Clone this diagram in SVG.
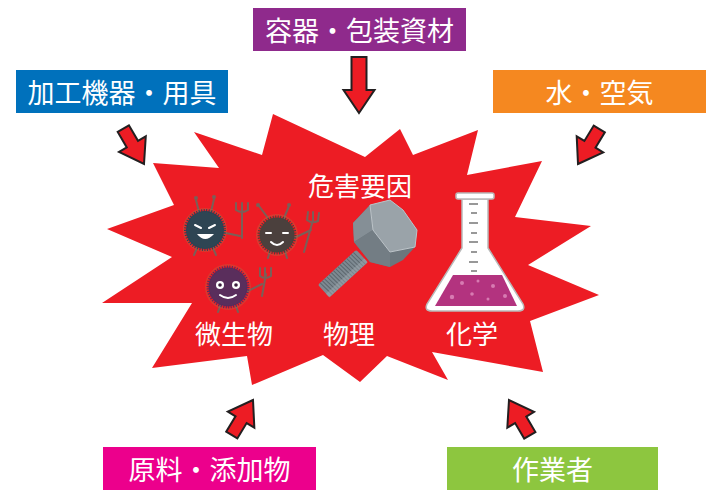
<svg xmlns="http://www.w3.org/2000/svg" width="706" height="491" viewBox="0 0 706 491">
  <style>
    .lbl { font-family: "Noto Sans CJK JP", "Noto Sans", sans-serif; font-size: 27px; fill: #ffffff; text-anchor: middle; dominant-baseline: central; }
    .cat { font-family: "Noto Sans CJK JP", "Noto Sans", sans-serif; font-size: 26px; fill: #ffffff; text-anchor: middle; dominant-baseline: central; }
    .arrow { fill: #ED1C24; stroke: #231F20; stroke-width: 2; stroke-linejoin: miter; }
    .fork { fill: none; stroke: #7a5f58; stroke-width: 2; stroke-linecap: round; }
    .fuzz { fill: none; stroke-width: 3; stroke-dasharray: 1 1.5; }
    .face { fill: none; stroke: #ffffff; stroke-width: 2; stroke-linecap: round; }
  </style>
  <defs>
    <!-- block arrows, tip at origin, pointing along +x -->
    <path id="arrowShort" d="M0,0 L-23,-15.5 L-23,-6.5 L-41,-6.5 L-41,6.5 L-23,6.5 L-23,15.5 Z"/>
    <path id="arrowLong" d="M0,0 L-23,-15.5 L-23,-7.5 L-56,-7.5 L-56,7.5 L-23,7.5 L-23,15.5 Z"/>
    <filter id="soft" x="-20%" y="-20%" width="140%" height="140%">
      <feGaussianBlur stdDeviation="0.6"/>
    </filter>
  </defs>

  <rect width="706" height="491" fill="#ffffff"/>

  <!-- central burst -->
  <g id="hazard-burst">
    <polygon fill="#ED1C24" points="273,114 365,157 400,129 413,155 478,130 467,175 542,161 515,217 591,226 528,265 599,295 530,321 543,372 432,352 448,380 387,356 360,382 323,355 252,385 247,356 152,368 192,303 102,303 172,257 107,229 174,205 153,163 219,168 194,132 262,155"/>
    <text class="cat" x="360" y="184">危害要因</text>
  </g>

  <!-- microorganisms -->
  <g id="microbes">
    <g filter="url(#soft)">
      <!-- dark teal microbe -->
      <g>
        <line class="fork" x1="199" y1="212" x2="196" y2="200"/>
        <line class="fork" x1="211" y1="212" x2="214" y2="199"/>
        <circle cx="196" cy="198" r="2" fill="#7a5f58"/>
        <circle cx="214" cy="197" r="2" fill="#7a5f58"/>
        <line class="fork" x1="221" y1="232" x2="240" y2="236"/>
        <path class="fork" d="M242,238 L242,208 M236,203 L236,210 Q242,214 248,210 L248,203 M242,203 L242,210"/>
        <line class="fork" x1="197" y1="248" x2="194" y2="255"/>
        <line class="fork" x1="213" y1="248" x2="216" y2="255"/>
        <circle cx="205" cy="230" r="21" fill="none" stroke="#c0603f" stroke-width="2" opacity="0.45"/>
        <circle cx="205" cy="230" r="19" fill="#2d4453"/>
        <circle cx="205" cy="230" r="19.5" class="fuzz" stroke="#2d4453"/>
        <path class="face" d="M195,225 L201,228 M215,225 L209,228"/>
        <path d="M197,234 Q205,244 214,234 Z" fill="#ffffff"/>
      </g>
      <!-- brown microbe -->
      <g>
        <line class="fork" x1="268" y1="218" x2="259" y2="206"/>
        <line class="fork" x1="284" y1="218" x2="289" y2="206"/>
        <circle cx="258" cy="205" r="2" fill="#7a5f58"/>
        <circle cx="289" cy="205" r="2" fill="#7a5f58"/>
        <path class="fork" d="M294,238 L311,230 M304,252 L313,220 M308,212 L307,220 Q312,224 318,221 L319,213 M313,212 L313,221"/>
        <line class="fork" x1="270" y1="251" x2="268" y2="258"/>
        <line class="fork" x1="285" y1="251" x2="287" y2="258"/>
        <circle cx="277" cy="235" r="20" fill="none" stroke="#c0603f" stroke-width="2" opacity="0.45"/>
        <circle cx="277" cy="235" r="17.5" fill="#4b403c"/>
        <circle cx="277" cy="235" r="18" class="fuzz" stroke="#4b403c"/>
        <path class="face" d="M266,233 L271,233 M283,233 L288,233"/>
        <path class="face" d="M271,242 Q277,248 283,242" stroke-width="1.8"/>
      </g>
      <!-- purple microbe -->
      <g>
        <path class="fork" d="M246,292 L262,284 M262,296 L266,274 M260,268 L260,276 Q265,280 271,276 L271,268 M265,268 L265,276"/>
        <line class="fork" x1="220" y1="306" x2="218" y2="312"/>
        <line class="fork" x1="236" y1="306" x2="238" y2="312"/>
        <circle cx="228" cy="287" r="22" fill="none" stroke="#c0603f" stroke-width="2" opacity="0.4"/>
        <circle cx="228" cy="287" r="19.5" fill="#5a2d5c"/>
        <circle cx="228" cy="287" r="20" class="fuzz" stroke="#5a2d5c"/>
        <circle cx="220" cy="285" r="4" fill="#ffffff"/>
        <circle cx="236" cy="285" r="4" fill="#ffffff"/>
        <circle cx="220" cy="285" r="1.8" fill="#3a1d3c"/>
        <circle cx="236" cy="285" r="1.8" fill="#3a1d3c"/>
        <path class="face" d="M220,295 Q228,301 236,295"/>
      </g>
    </g>
    <text class="cat" x="234" y="332">微生物</text>
  </g>

  <!-- physical: bolt -->
  <g id="bolt">
    <g transform="translate(362,256) rotate(137.5)">
      <rect x="0" y="-8.5" width="52" height="17" rx="2" fill="#7e8a92"/>
      <path d="M3,-8.5 L4,8.5 M6,-8.5 L7,8.5 M9,-8.5 L10,8.5 M12,-8.5 L13,8.5 M15,-8.5 L16,8.5 M18,-8.5 L19,8.5 M21,-8.5 L22,8.5 M24,-8.5 L25,8.5 M27,-8.5 L28,8.5 M30,-8.5 L31,8.5 M33,-8.5 L34,8.5 M36,-8.5 L37,8.5 M39,-8.5 L40,8.5 M42,-8.5 L43,8.5 M45,-8.5 L46,8.5 M48,-8.5 L49,8.5" stroke="#5d676e" stroke-width="1"/>
      <rect x="0" y="-8.5" width="52" height="5" fill="#a3adb3" opacity="0.45"/>
    </g>
    <polygon fill="#6c767d" points="353,223 370,205 390,200 403,210 417,230 415,247 403,260 390,267 370,262 354,242"/>
    <polygon fill="#858f96" points="353,223 370,205 373,230 354,242"/>
    <polygon fill="#737d84" points="354,242 373,230 390,252 390,267 370,262"/>
    <polygon fill="#9aa3a9" points="370,205 390,200 403,210 417,230 415,247 390,252 373,230"/>
    <polygon fill="none" stroke="#bcc3c8" stroke-width="1" points="370,205 390,200 403,210 417,230 415,247 390,252 373,230"/>
    <text class="cat" x="349" y="332">物理</text>
  </g>

  <!-- chemical: flask -->
  <g id="flask">
    <path d="M462,199 L462,248 L427,304 Q424,311 432,311 L518,311 Q526,311 523,304 L488,248 L488,199 Z" fill="#ffffff" stroke="#b9b9b9" stroke-width="1.5"/>
    <rect x="456" y="193" width="38" height="6" rx="2" fill="#ffffff" stroke="#b9b9b9" stroke-width="1.5"/>
    <path d="M453,275 L502,275 L517,306 L435,306 Z" fill="#B3337F"/>
    <g fill="#d77bb2">
      <circle cx="462" cy="283" r="2"/>
      <circle cx="478" cy="281" r="1.5"/>
      <circle cx="493" cy="286" r="2"/>
      <circle cx="452" cy="297" r="2.2"/>
      <circle cx="472" cy="294" r="1.8"/>
      <circle cx="488" cy="299" r="1.5"/>
      <circle cx="505" cy="296" r="2"/>
    </g>
    <path d="M469,204 L478,204 M471,213 L477,213 M469,223 L478,223 M471,233 L477,233 M469,242 L478,242 M471,252 L477,252 M469,262 L478,262 M471,271 L477,271" stroke="#777777" stroke-width="1.5"/>
    <text class="cat" x="472" y="332">化学</text>
  </g>

  <!-- source labels -->
  <g id="equipment">
    <rect x="16" y="70" width="212" height="43" fill="#0071BC"/>
    <text class="lbl" x="122" y="91.5">加工機器・用具</text>
  </g>
  <g id="packaging">
    <rect x="253" y="8" width="213" height="43" fill="#8F2A8C"/>
    <text class="lbl" x="359.5" y="29.5">容器・包装資材</text>
  </g>
  <g id="water-air">
    <rect x="493" y="70" width="213" height="43" fill="#F58820"/>
    <text class="lbl" x="599.5" y="91.5">水・空気</text>
  </g>
  <g id="ingredients">
    <rect x="103" y="447" width="213" height="43" fill="#EC008C"/>
    <text class="lbl" x="209.5" y="468.5">原料・添加物</text>
  </g>
  <g id="workers">
    <rect x="447" y="447" width="211" height="43" fill="#8DC63F"/>
    <text class="lbl" x="552.5" y="468.5">作業者</text>
  </g>

  <!-- arrows into the burst -->
  <g id="connectors">
    <use href="#arrowLong" class="arrow" transform="translate(359,113) rotate(90)"/>
    <use href="#arrowShort" class="arrow" transform="translate(144,164) rotate(59.7)"/>
    <use href="#arrowShort" class="arrow" transform="translate(578,164) rotate(121.3)"/>
    <use href="#arrowShort" class="arrow" transform="translate(253,400) rotate(-58.8)"/>
    <use href="#arrowShort" class="arrow" transform="translate(509,400) rotate(-120.5)"/>
  </g>
</svg>
